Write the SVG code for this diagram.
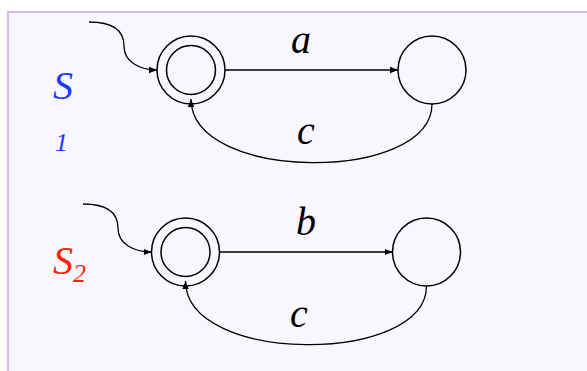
<svg xmlns="http://www.w3.org/2000/svg" width="587" height="371" viewBox="0 0 587 371">
<defs>
<style>
.st{fill:none;stroke:#000;stroke-width:1.5}
.ln{fill:none;stroke:#000;stroke-width:1.3}
text{font-family:'Liberation Serif','Times New Roman',Times,serif;font-style:italic}
.lb{font-size:40px}
.sub{font-size:26px}
</style>
<marker id="ah" viewBox="0 0 10 10" refX="10" refY="5" markerWidth="8" markerHeight="8" markerUnits="userSpaceOnUse" orient="auto">
<path d="M0,1 L10,5 L0,9 Z" fill="#000"/>
</marker>
</defs>
<rect width="587" height="371" fill="#fff"/>
<rect x="8" y="12" width="600" height="380" fill="#f8f6ff" stroke="#d9b5f7" stroke-width="2"/>

<g id="label-s1" fill="#1a3cff">
<text class="lb" x="53" y="99">S</text>
<text class="sub" x="55" y="151">1</text>
</g>
<g id="label-s2" fill="#ff2200">
<text class="lb" x="53" y="274">S</text>
<text class="sub" x="73" y="282">2</text>
</g>

<g id="s1-start">
<circle class="st" cx="191" cy="70" r="34"/>
<circle class="st" cx="191" cy="70" r="24.5"/>
</g>
<g id="s1-end">
<circle class="st" cx="432" cy="70" r="34"/>
</g>
<g id="s2-start">
<circle class="st" cx="185.5" cy="252" r="34"/>
<circle class="st" cx="185.5" cy="252" r="24.5"/>
</g>
<g id="s2-end">
<circle class="st" cx="426.5" cy="252" r="34"/>
</g>

<g id="connectors">
<path class="ln" d="M89,22 C118,22 124,34 124,46 C124,62 140,70 157,70" marker-end="url(#ah)"/>
<path class="ln" d="M225,70 L398,70" marker-end="url(#ah)"/>
<path class="ln" d="M432,104 C432,183 191,183 191,99" marker-end="url(#ah)"/>
<path class="ln" d="M83,204 C112,204 118,216 118,228 C118,244 134,252 151.5,252" marker-end="url(#ah)"/>
<path class="ln" d="M219.5,252 L392.5,252" marker-end="url(#ah)"/>
<path class="ln" d="M426.5,286 C426.5,365 185.5,365 185.5,281" marker-end="url(#ah)"/>
</g>

<g id="edge-labels" fill="#000">
<text class="lb" x="291" y="53">a</text>
<text class="lb" x="297" y="144">c</text>
<text class="lb" x="296" y="235">b</text>
<text class="lb" x="290" y="327">c</text>
</g>
</svg>
